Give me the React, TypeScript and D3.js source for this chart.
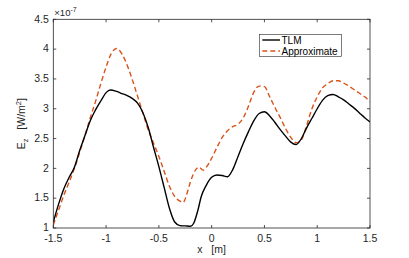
import React from "react";
import * as d3 from "d3";

// field magnitude along x, units of 1e-7 W/m^2
const tlmX = [-1.5, -1.45, -1.4, -1.35, -1.3, -1.25, -1.2, -1.15, -1.1, -1.05, -1.0, -0.96, -0.9, -0.85, -0.8, -0.75, -0.7, -0.65, -0.6, -0.55, -0.5, -0.45, -0.4, -0.35, -0.3, -0.25, -0.2, -0.17, -0.13, -0.1, -0.05, 0, 0.05, 0.1, 0.15, 0.2, 0.25, 0.3, 0.35, 0.4, 0.45, 0.5, 0.55, 0.6, 0.65, 0.7, 0.75, 0.8, 0.85, 0.9, 0.95, 1.0, 1.05, 1.1, 1.15, 1.2, 1.25, 1.3, 1.35, 1.4, 1.45, 1.5];
const tlmY = [1.1, 1.4, 1.66, 1.85, 2.02, 2.3, 2.55, 2.8, 2.98, 3.13, 3.27, 3.315, 3.29, 3.255, 3.22, 3.17, 3.09, 2.93, 2.68, 2.35, 2.03, 1.68, 1.33, 1.1, 1.04, 1.035, 1.03, 1.08, 1.3, 1.52, 1.72, 1.85, 1.89, 1.88, 1.86, 1.98, 2.2, 2.42, 2.62, 2.8, 2.92, 2.95, 2.88, 2.77, 2.65, 2.54, 2.44, 2.4, 2.5, 2.68, 2.84, 3.0, 3.14, 3.22, 3.24, 3.2, 3.15, 3.08, 3.01, 2.93, 2.85, 2.78];

const approxX = [-1.5, -1.45, -1.4, -1.35, -1.3, -1.25, -1.2, -1.15, -1.1, -1.05, -1.0, -0.95, -0.9, -0.85, -0.8, -0.75, -0.7, -0.65, -0.6, -0.55, -0.5, -0.45, -0.4, -0.35, -0.3, -0.27, -0.23, -0.2, -0.15, -0.12, -0.08, -0.05, 0, 0.05, 0.1, 0.15, 0.2, 0.25, 0.3, 0.35, 0.4, 0.45, 0.5, 0.55, 0.6, 0.65, 0.7, 0.75, 0.8, 0.85, 0.9, 0.95, 1.0, 1.05, 1.1, 1.15, 1.2, 1.25, 1.3, 1.35, 1.4, 1.45, 1.5];
const approxY = [1.05, 1.3, 1.55, 1.77, 2.0, 2.27, 2.55, 2.85, 3.12, 3.42, 3.7, 3.93, 4.01, 3.92, 3.73, 3.48, 3.2, 2.92, 2.64, 2.42, 2.2, 1.95, 1.7, 1.53, 1.45, 1.43, 1.6, 1.78, 1.98, 2.02, 1.97, 2.02, 2.17, 2.35, 2.52, 2.63, 2.7, 2.74, 2.85, 3.05, 3.28, 3.38, 3.37, 3.2, 3.02, 2.85, 2.67, 2.52, 2.43, 2.48, 2.72, 3.0, 3.2, 3.35, 3.42, 3.47, 3.47, 3.43, 3.38, 3.32, 3.26, 3.2, 3.12];

const xTicks = [-1.5, -1, -0.5, 0, 0.5, 1, 1.5];
const yTicks = [1, 1.5, 2, 2.5, 3, 3.5, 4, 4.5];

const W = 409, H = 258;
const L = 53.3, R = 370, T = 19.3, B = 228;
const axisColor = "#262626";
const font = "'Liberation Sans', Arial, sans-serif";

export default function App() {
  const x = d3.scaleLinear().domain([-1.5, 1.5]).range([L, R]);
  const y = d3.scaleLinear().domain([1, 4.5]).range([B, T]);

  const line = d3.line<[number, number]>()
    .x(d => x(d[0]))
    .y(d => y(d[1]))
    .curve(d3.curveMonotoneX);

  const tlm = tlmX.map((v, i) => [v, tlmY[i]] as [number, number]);
  const approx = approxX.map((v, i) => [v, approxY[i]] as [number, number]);

  return (
    <svg width={W} height={H} style={{ position: "absolute", left: 0, top: 0, background: "#fff" }} fontFamily={font}>
      <defs>
        <clipPath id="plot">
          <rect x={L} y={T} width={R - L} height={B - T} />
        </clipPath>
      </defs>
      <g clipPath="url(#plot)">
        <path d={line(approx) || ""} fill="none" stroke="#D95319" strokeWidth={1.4} strokeDasharray="5,3" />
        <path d={line(tlm) || ""} fill="none" stroke="#000" strokeWidth={1.4} />
      </g>

      {/* box and ticks */}
      <rect x={L} y={T} width={R - L} height={B - T} fill="none" stroke={axisColor} strokeWidth={0.8} />
      {xTicks.map(t => (
        <g key={"x" + t}>
          <line x1={x(t)} x2={x(t)} y1={B} y2={B - 3} stroke={axisColor} strokeWidth={0.8} />
          <line x1={x(t)} x2={x(t)} y1={T} y2={T + 3} stroke={axisColor} strokeWidth={0.8} />
          <text x={x(t)} y={B + 13.8} textAnchor="middle" fontSize={10.5} fill={axisColor}>{t}</text>
        </g>
      ))}
      {yTicks.map(t => (
        <g key={"y" + t}>
          <line x1={L} x2={L + 3} y1={y(t)} y2={y(t)} stroke={axisColor} strokeWidth={0.8} />
          <line x1={R} x2={R - 3} y1={y(t)} y2={y(t)} stroke={axisColor} strokeWidth={0.8} />
          <text x={L - 4.5} y={y(t) + 3.3} textAnchor="end" fontSize={10.5} fill={axisColor}>{t}</text>
        </g>
      ))}

      {/* exponent */}
      <text x={L + 1} y={T - 3} fontSize={9.5} fill={axisColor}>
        ×10<tspan dy={-4} fontSize={7}>-7</tspan>
      </text>

      {/* axis labels */}
      <text x={(L + R) / 2} y={B + 25} textAnchor="middle" fontSize={10.5} fill={axisColor} xmlSpace="preserve">
        {"x   [m]"}
      </text>
      <text transform={`translate(25,${(T + B) / 2}) rotate(-90)`} textAnchor="middle" fontSize={10.5} fill={axisColor} xmlSpace="preserve">
        E<tspan dy={3} fontSize={7.5}>z</tspan><tspan dy={-3}>{"   [W/m"}</tspan><tspan dy={-4} fontSize={7.5}>2</tspan><tspan dy={4}>]</tspan>
      </text>

      {/* legend */}
      <rect x={259.3} y={34.3} width={82.4} height={22.4} fill="#fff" stroke={axisColor} strokeWidth={0.6} />
      <line x1={262.3} x2={280} y1={40} y2={40} stroke="#000" strokeWidth={1.4} />
      <text x={281.5} y={43.6} fontSize={10} fill="#000">TLM</text>
      <line x1={262.3} x2={280} y1={51} y2={51} stroke="#D95319" strokeWidth={1.4} strokeDasharray="5,3" />
      <text x={281.5} y={54.6} fontSize={10} fill="#000">Approximate</text>
    </svg>
  );
}
